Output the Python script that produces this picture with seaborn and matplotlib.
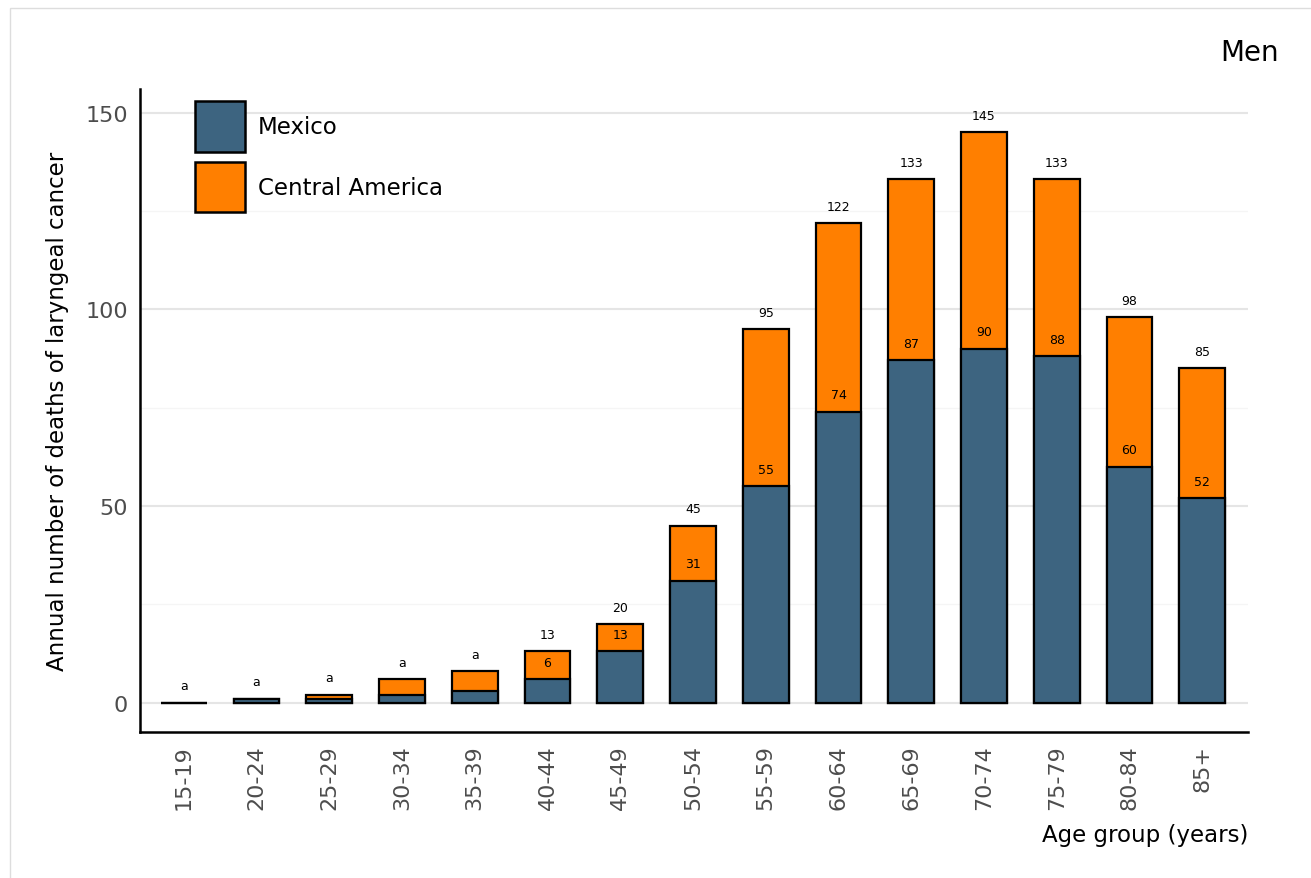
import matplotlib
matplotlib.use("Agg")
import matplotlib.pyplot as plt
from matplotlib.patches import Patch, Rectangle
import seaborn as sns
import pandas as pd

# data
age_groups = ["15-19", "20-24", "25-29", "30-34", "35-39", "40-44", "45-49", "50-54",
              "55-59", "60-64", "65-69", "70-74", "75-79", "80-84", "85+"]
mexico = [0, 1, 1, 2, 3, 6, 13, 31, 55, 74, 87, 90, 88, 60, 52]
total = [0, 1, 2, 6, 8, 13, 20, 45, 95, 122, 133, 145, 133, 98, 85]
small = [True, True, True, True, True, False, False, False,
         False, False, False, False, False, False, False]

df = pd.DataFrame({"age": age_groups, "mexico": mexico, "total": total})

c_mex = "#3d6480"
c_ca = "#ff7f00"

sns.set_style("white")
plt.rcParams["font.family"] = ["DejaVu Sans"]
plt.rcParams["text.color"] = "black"
plt.rcParams["axes.labelcolor"] = "black"

fig = plt.figure(figsize=(13.11, 8.79), dpi=100)
ax = fig.add_axes([0.1068, 0.166, 0.8452, 0.7316])

fig.patches.append(Rectangle((0.008, -0.01), 1.1, 1.0, transform=fig.transFigure,
                             fill=False, edgecolor="#dddddd", linewidth=1.0))

sns.barplot(data=df, x="age", y="total", order=age_groups, color=c_ca, width=0.63,
            edgecolor="black", linewidth=1.6, saturation=1, ax=ax, zorder=3)
sns.barplot(data=df, x="age", y="mexico", order=age_groups, color=c_mex, width=0.63,
            edgecolor="black", linewidth=1.6, saturation=1, ax=ax, zorder=3)

for i, (m, t, s) in enumerate(zip(mexico, total, small)):
    if s:
        ax.text(i, t + 2.6, "a", ha="center", va="bottom", fontsize=9)
    else:
        ax.text(i, t + 2.6, str(t), ha="center", va="bottom", fontsize=9)
        ax.text(i, m + 2.6, str(m), ha="center", va="bottom", fontsize=9)

ax.set_ylim(-7.5, 156)
ax.set_xlim(-0.6, 14.63)
ax.set_yticks([0, 50, 100, 150])
ax.set_yticks([25, 75, 125], minor=True)
ax.grid(axis="y", which="major", color="#e5e5e5", linewidth=1.5, zorder=0)
ax.grid(axis="y", which="minor", color="#f5f5f5", linewidth=1.0, zorder=0)
ax.set_axisbelow(True)

for side in ["top", "right"]:
    ax.spines[side].set_visible(False)
for side in ["left", "bottom"]:
    ax.spines[side].set_linewidth(1.8)
    ax.spines[side].set_color("black")

ax.tick_params(axis="both", which="major", direction="out", length=5, width=1.8,
               labelsize=16, labelcolor="#4d4d4d", color="black")
ax.tick_params(axis="y", which="minor", length=0)
ax.tick_params(axis="x", labelrotation=90)

ax.set_xlabel("Age group (years)", fontsize=16.5, loc="right", labelpad=10)
ax.set_ylabel("Annual number of deaths of laryngeal cancer", fontsize=16.5, labelpad=12)

handles = [Patch(facecolor=c_mex, edgecolor="black", linewidth=1.8, label="Mexico"),
           Patch(facecolor=c_ca, edgecolor="black", linewidth=1.8, label="Central America")]
ax.legend(handles=handles, loc="upper left", bbox_to_anchor=(0.0496, 0.981), frameon=False,
          fontsize=16.5, handlelength=2.2, handleheight=3.0, handletextpad=0.55,
          labelspacing=0.45, borderaxespad=0, borderpad=0)

fig.text(0.9756, 0.94, "Men", ha="right", va="center", fontsize=20)

fig.savefig("out.png", dpi=100)
